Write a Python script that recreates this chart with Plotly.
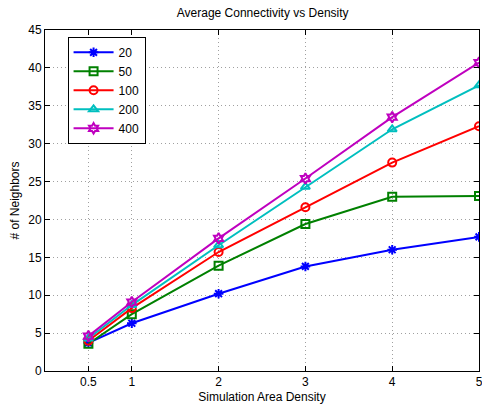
import plotly.graph_objects as go

x = [0.5, 1, 2, 3, 4, 5]
names = ["20", "50", "100", "200", "400"]
y20 = [3.7, 6.3, 10.2, 13.8, 16.0, 17.7]
y50 = [3.6, 7.5, 13.9, 19.4, 23.0, 23.1]
y100 = [4.0, 8.3, 15.7, 21.6, 27.5, 32.3]
y200 = [4.3, 8.7, 16.6, 24.3, 31.9, 37.7]
y400 = [4.6, 9.1, 17.5, 25.4, 33.5, 40.7]
series = [y20, y50, y100, y200, y400]
colors = ["#0000ff", "#008000", "#ff0000", "#00bfbf", "#bf00bf"]
symbols = ["asterisk-open", "square-open", "circle-open", "triangle-up-open", "hexagram-open"]
xticks = [0.5, 1, 2, 3, 4, 5]
yticks = list(range(0, 46, 5))

fig = go.Figure()
for n, ys, c, s in zip(names, series, colors, symbols):
    fig.add_trace(go.Scatter(
        x=x, y=ys, name=n, mode="lines+markers",
        line=dict(color=c, width=2),
        marker=dict(symbol=s, size=8, color=c, line=dict(color=c, width=2)),
    ))

font = "Liberation Sans, Arial, Helvetica, sans-serif"
axis_common = dict(
    showline=True, linecolor="black", linewidth=1, mirror="ticks",
    ticks="inside", ticklen=5, tickcolor="black",
    showgrid=True, gridcolor="#a0a0a0", griddash="1px,3px", gridwidth=1,
    zeroline=False, tickfont=dict(family=font, size=12, color="black"),
    ticklabeloverflow="allow",
)
fig.update_xaxes(range=[0, 5], tickvals=xticks, ticktext=[str(t) for t in xticks],
                 title=dict(text="Simulation Area Density", font=dict(family=font, size=12, color="black"), standoff=4),
                 **axis_common)
fig.update_yaxes(range=[0, 45], tickvals=yticks,
                 title=dict(text="# of Neighbors", font=dict(family=font, size=12, color="black"), standoff=6),
                 **axis_common)
fig.update_layout(
    width=482, height=409,
    margin=dict(l=45, r=3, t=30, b=38, autoexpand=False),
    paper_bgcolor="white", plot_bgcolor="white",
    title=dict(text="Average Connectivity vs Density", x=0.545, xanchor="center",
               y=0.968, yanchor="middle", font=dict(family=font, size=12, color="black")),
    legend=dict(x=0.052, y=0.98, xanchor="left", yanchor="top",
                bgcolor="white", bordercolor="black", borderwidth=1,
                font=dict(family=font, size=12, color="black"),
                tracegroupgap=0, itemwidth=40),
    showlegend=True,
)
fig.write_html("out.html", config={"displayModeBar": False},
               post_script="document.body.style.margin='0';document.body.style.overflow='hidden';")
